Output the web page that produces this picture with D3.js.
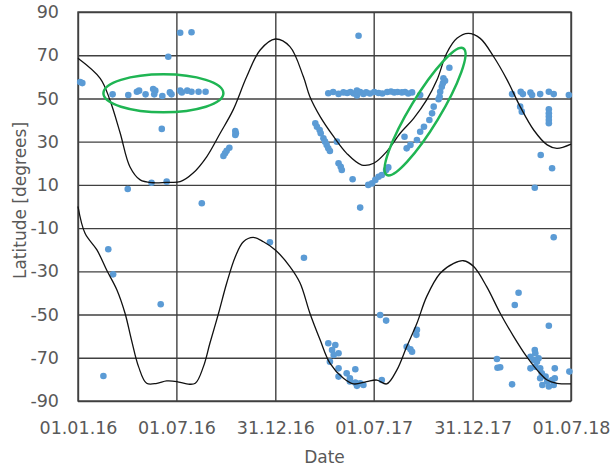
<!DOCTYPE html>
<html>
<head>
  <meta charset="utf-8">
  <title>Latitude vs date</title>
  <script src="https://d3js.org/d3.v7.min.js"></script>
  <style>
    body { margin: 0; background: #fff; }
    text { font-family: "DejaVu Sans", Verdana, sans-serif; fill: #595959; }
  </style>
</head>
<body>
  <div id="chart"></div>
</body>

<script>
  // dates are stored as days after 01.01.16
  const startDate = new Date(2016, 0, 1);
  const endDay = 912;

  const xTickDays = [0, 182, 365, 547, 730, 912];
  const xTickLabels = ["01.01.16", "01.07.16", "31.12.16", "01.07.17", "31.12.17", "01.07.18"];
  const yTicks = [-90, -70, -50, -30, -10, 10, 30, 50, 70, 90];

  // upper model curve
  const upperDays = [0, 41, 59, 78, 96, 115, 139, 164, 189, 213, 238, 263, 287, 312, 337, 365, 392, 417, 429, 448,
    473, 497, 525, 547, 571, 596, 621, 645, 664, 682, 701, 722, 744, 769, 794, 818, 843, 868, 886, 912];
  const upperLat = [68.6, 59.3, 49.3, 34, 18.4, 12.3, 11, 11.2, 11.5, 15.5, 23, 33.9, 44.7, 60, 72.4, 77.5, 74, 60, 50.8, 41.6,
    32.3, 24.6, 19.2, 20, 25.4, 33.9, 40.8, 49.3, 58.5, 70.9, 77.8, 80.1, 77.8, 69.3, 58.5, 46.2, 35.4, 28.5, 26.9, 28.9];

  // lower model curve
  const lowerDays = [0, 13, 35, 53, 72, 87, 99, 112, 127, 146, 164, 183, 201, 217, 232, 244, 260, 275, 291, 306,
    324, 343, 365, 392, 411, 429, 448, 466, 491, 510, 534, 553, 571, 590, 608, 627, 645, 670, 695, 713,
    732, 756, 781, 806, 830, 849, 868, 886, 912];
  const lowerLat = [0, -12.4, -20.1, -29.4, -38.6, -49.4, -61.8, -74.1, -81.8, -81.8, -80.7, -81, -82.1, -81.8, -74.1, -63.3, -49.4, -35.5, -23.2, -16.3,
    -14.3, -16.3, -20.1, -27.8, -35.5, -49.4, -61.8, -72.5, -79.5, -82.1, -81, -80.3, -82.1, -75.6, -64.9, -54, -41.7, -30.9, -26.3, -25.1,
    -27.8, -37.1, -49.4, -60.2, -69.5, -75.6, -80.3, -81.8, -82.1];

  // observations
  const obsDays = [
    4, 8, 64, 93, 109, 113, 125, 139, 143, 141, 156, 170, 173, 189, 192, 202, 210, 223, 236, 167, 189, 210, 155, 92, 136, 164, 229,
    269, 272, 275, 280, 291, 292, 291,
    463, 472, 482, 491, 498, 504, 510, 516, 516, 522, 528, 533, 540, 548, 556, 563, 572, 579, 585, 591, 599, 605, 611, 618, 633,
    439, 442, 447, 449, 454, 457, 460, 463, 466, 479, 482, 486, 488, 508, 522, 537, 544, 550, 556, 562, 570, 574,
    604, 608, 615, 627, 633, 640, 650, 655, 658, 667, 669, 670, 673, 675, 679, 676, 687, 519,
    803, 819, 823, 837, 840, 855, 871, 880, 908, 818, 821, 871, 871, 871, 871, 871, 856, 877, 845, 880,
    47, 56, 65, 153, 355, 418,
    559, 570, 627, 626, 608, 615, 618, 463, 476, 470, 482, 473, 466, 482, 497, 513, 482, 503, 513, 522, 528, 516, 503, 562,
    775, 776, 781, 803, 808, 815, 871, 909, 845, 846, 837, 843, 849, 852, 837, 846, 855, 858, 865, 855, 868, 877, 882, 882, 871, 880, 859
  ];
  const obsLat = [
    57.6, 57.1, 51.9, 51.6, 53.1, 53.6, 51.9, 54.4, 53.6, 51.9, 51.1, 52.8, 51.9, 53.6, 52.8, 53.6, 53.1, 53.1, 53.1, 69.3, 80.4, 80.6, 35.9, 8.1, 11, 11.5, 1.5,
    23.4, 24.6, 25.8, 27.2, 34.9, 33.9, 33.1,
    52.4, 53, 52.1, 52.8, 52.5, 53, 52.3, 53.7, 51.4, 53, 52.1, 52.8, 52.3, 53, 52.5, 52.3, 53, 53.2, 52.8, 53, 52.8, 53, 52.3, 52.8, 51.6,
    38.5, 36.9, 35.4, 33.9, 31.6, 30, 28.5, 26.9, 25.7, 30, 20, 18.4, 16.9, 12.6, -0.5, 10, 10.7, 12.3, 13.8, 14.6, 16.9, 18.1,
    32.3, 26.9, 28.5, 30.8, 34.6, 36.9, 40, 43.1, 46.2, 49.6, 50.8, 53.1, 55.4, 57, 58.2, 59.3, 64.2, 79,
    52, 53.1, 52, 52.7, 51.6, 52, 53.1, 52, 51.6, 46.2, 43.9, 45, 43.1, 41.6, 40, 38.5, 23.8, 17.7, 8.7, -14.2,
    -78.4, -19.8, -31.4, -45.2, -16.6, -23.7,
    -50.2, -52.8, -57.1, -59.4, -64.9, -66.1, -67.2, -63.3, -64.1, -66.4, -67.9, -68.7, -71.8, -74.9, -77.2, -75.3, -78.7, -79.5, -81.5, -81.8, -82.6, -83, -81, -80.3,
    -70.6, -74.6, -74.4, -82.3, -45.6, -39.9, -55.2, -76.4, -66.4, -67.9, -69.5, -71, -71.8, -70.2, -74.9, -74.1, -74.9, -77.2, -78.7, -79.5, -81, -80.3, -79.5, -74.9, -83.3, -82.6, -82.6
  ];

  // highlighted groups: centre (day, latitude)
  const markDays = [158, 642];
  const markLat = [52.4, 43.9];

  const margin = {top: 12, right: 41, bottom: 70, left: 78},
      width = 612 - margin.left - margin.right,
      height = 471 - margin.top - margin.bottom;

  const day = d => d3.timeDay.offset(startDate, d);

  const svg = d3.select("#chart")
    .append("svg")
      .attr("width", 612)
      .attr("height", 471)
    .append("g")
      .attr("transform", `translate(${margin.left},${margin.top})`);

  const x = d3.scaleTime()
    .domain([startDate, day(endDay)])
    .range([0, width]);

  const y = d3.scaleLinear()
    .domain([-90, 90])
    .range([height, 0]);

  // Y axis with horizontal grid (plain hyphen as minus sign)
  const yAxis = svg.append("g")
    .call(d3.axisLeft(y)
      .tickValues(yTicks)
      .tickFormat(d => String(d))
      .tickSizeInner(-width)
      .tickSizeOuter(0)
      .tickPadding(19));
  yAxis.select(".domain").remove();
  yAxis.selectAll("line").attr("stroke", "#404040").attr("stroke-width", 1.4);
  yAxis.selectAll("text").attr("font-size", "17.5px").attr("fill", "#595959");

  // X axis with vertical grid
  const xAxis = svg.append("g")
    .attr("transform", `translate(0, ${height})`)
    .call(d3.axisBottom(x)
      .tickValues(xTickDays.map(day))
      .tickFormat((d, i) => xTickLabels[i])
      .tickSizeInner(-height)
      .tickSizeOuter(0)
      .tickPadding(21));
  xAxis.select(".domain").remove();
  xAxis.selectAll("line").attr("stroke", "#404040").attr("stroke-width", 1.4);
  xAxis.selectAll("text").attr("font-size", "17.5px").attr("fill", "#595959");

  // plot border
  svg.append("rect")
    .attr("width", width)
    .attr("height", height)
    .attr("fill", "none")
    .attr("stroke", "#404040")
    .attr("stroke-width", 1.4);

  // axis titles
  svg.append("text")
    .attr("x", width / 2)
    .attr("y", height + 62)
    .attr("text-anchor", "middle")
    .attr("font-size", "17px")
    .text("Date");

  svg.append("text")
    .attr("transform", `translate(${-margin.left + 26}, ${height / 2 - 6}) rotate(-90)`)
    .attr("text-anchor", "middle")
    .attr("font-size", "17px")
    .text("Latitude [degrees]");

  // observations
  const obs = obsDays.map((d, i) => ({x: day(d), y: obsLat[i]}));
  svg.selectAll(".dot")
    .data(obs)
    .enter()
    .append("circle")
      .attr("class", "dot")
      .attr("cx", d => x(d.x))
      .attr("cy", d => y(d.y))
      .attr("r", 3.3)
      .attr("fill", "#5b9bd5");

  // model curves
  const line = d3.line()
    .x(d => x(d.x))
    .y(d => y(d.y))
    .curve(d3.curveCatmullRom.alpha(0.5));

  [[upperDays, upperLat], [lowerDays, lowerLat]].forEach(([ds, ls]) => {
    svg.append("path")
      .datum(ds.map((d, i) => ({x: day(d), y: ls[i]})))
      .attr("fill", "none")
      .attr("stroke", "#111")
      .attr("stroke-width", 1.3)
      .attr("d", line);
  });

  // green ellipses: rx, ry in px and rotation in degrees
  const markR = [[60, 19, 0], [74, 15, -58.8]];
  markDays.forEach((d, i) => {
    svg.append("ellipse")
      .attr("transform", `translate(${x(day(d))},${y(markLat[i])}) rotate(${markR[i][2]})`)
      .attr("rx", markR[i][0])
      .attr("ry", markR[i][1])
      .attr("fill", "none")
      .attr("stroke", "#1fb553")
      .attr("stroke-width", 2.5);
  });
</script>

</html>
